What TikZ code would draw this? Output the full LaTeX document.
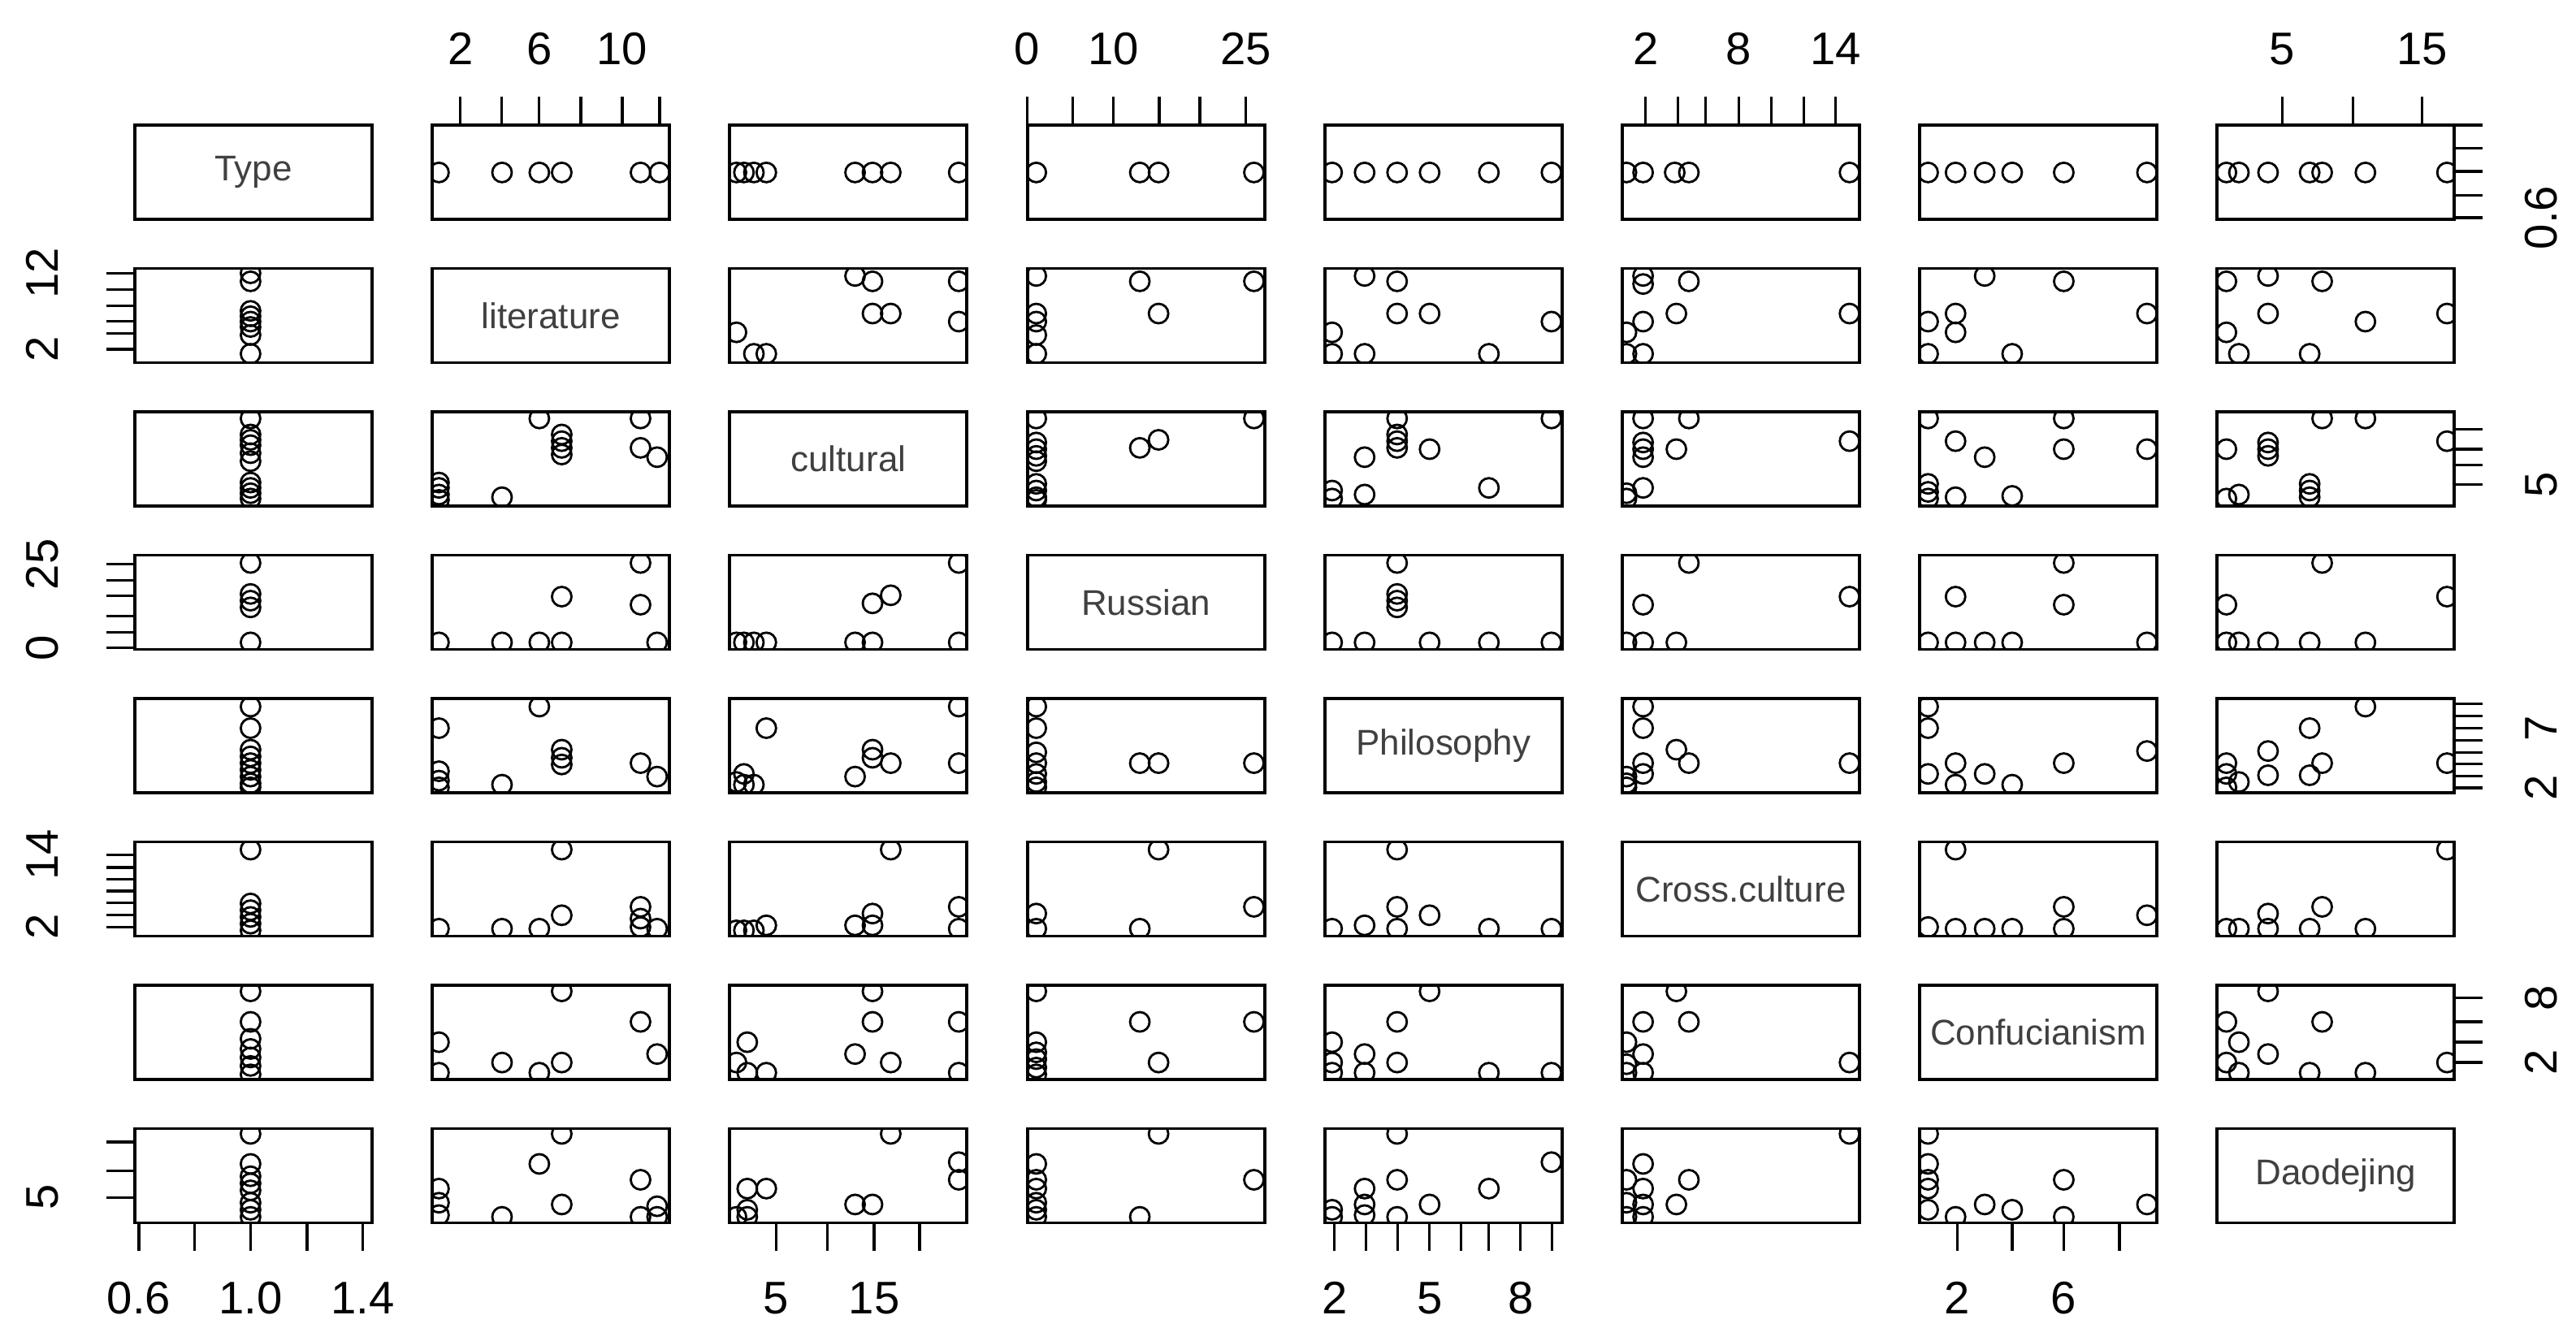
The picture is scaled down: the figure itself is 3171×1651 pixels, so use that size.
\documentclass[tikz,border=0pt]{standalone}
\usepackage{fontspec}
\setmainfont{Liberation Sans}
\begin{document}
\begin{tikzpicture}[x=0.01cm,y=-0.01cm,
  frame/.style={line width=1.1pt},
  tk/.style={line width=0.9pt},
  ptc/.style={line width=0.8pt},
  ticklab/.style={font=\fontsize{16}{16}\selectfont},
  diaglab/.style={font=\fontsize{12.5}{13}\selectfont, text=black!75}]
\useasboundingbox (0,0) rectangle (3171,1651);
\newcommand\pts[3]{%
 \pgfmathsetmacro\zl{{162,519,876,1234,51,415,772,1129}[#1-1]}%
 \pgfmathsetmacro\zw{{285,286,286,291,292,285,285,285}[#1-1]}%
 \pgfmathsetmacro\zt{{462,982,75,596,1130,72,502,930}[#2-1]}%
 \pgfmathsetmacro\zh{{338,351,353,350,350,280,278,267}[#2-1]}%
 \pgfmathsetmacro\xo{166+366.2*(#1-1)}%
 \pgfmathsetmacro\yo{154+176.5*(#2-1)}%
 \begin{scope}
 \clip (\xo,\yo) rectangle ++(292,116);
 \foreach \a/\b in {#3} {
   \pgfmathsetmacro\px{\xo+(\a-\zl)/\zw*292}
   \pgfmathsetmacro\py{\yo+(\b-\zt)/\zh*116}
   \draw[ptc] (\px,\py) circle[radius=0.12cm];}
 \end{scope}}
% frames
\foreach \c in {1,...,8}{\foreach \r in {1,...,8}{
  \draw[frame] ({166+366.2*(\c-1)},{154+176.5*(\r-1)}) rectangle ++(292,116);}}
% diagonal labels
\foreach \t [count=\i] in {Type,literature,cultural,Russian,Philosophy,Cross.culture,Confucianism,Daodejing}{
  \node[diaglab] (lab\i) at ({166+366.2*(\i-1)+146},{154+176.5*(\i-1)+58}) {\t};}
% top axes
\foreach \x in {566.9,617.9,663.9,715,766,812, 1264.6,1320.8,1370.9,1427,1477,1533.4, 2025.7,2065.6,2099.5,2140.4,2180.4,2220.4,2259.3, 2809.3,2896.4,2981.5}
  \draw[tk] (\x,154) -- (\x,119);
\draw[tk] (532.2,154)--(826,154) (1264.6,154)--(1533.4,154) (2025.7,154)--(2259.3,154) (2809.3,154)--(2981.5,154);
\foreach \x/\l in {566.9/2,663.9/6,766/10,1264.6/0,1370.9/10,1533.4/25,2025.7/2,2140.4/8,2259.3/14,2809.3/5,2981.5/15}
  \node[ticklab] at (\x,60) {\l};
% bottom axes
\foreach \x in {171,239.8,308.4,378,446.7, 955.6,1018.9,1076,1132, 1642.8,1681.8,1720.8,1759.8,1798.8,1832.8,1871.8,1910.8, 2409.3,2476.9,2540.5,2609}
  \draw[tk] (\x,1505.5) -- (\x,1540);
\draw[tk] (171,1505.5)--(446.7,1505.5) (955.6,1505.5)--(1132,1505.5) (1642.8,1505.5)--(1910.8,1505.5) (2409.3,1505.5)--(2609,1505.5);
\foreach \x/\l in {171/0.6,308.4/1.0,446.7/1.4,955.6/5,1076/15,1642.8/2,1759.8/5,1871.8/8,2409.3/2,2540.5/6}
  \node[ticklab] at (\x,1598) {\l};
% left axes
\foreach \y in {336.4,356.3,376.1,395.9,410.8,430, 694.8,714.7,733.9,758.4,778.3,797.5, 1052.2,1068,1082.5,1097,1111.4,1126.8,1141.2, 1406,1441.6,1474.2}
  \draw[tk] (166,\y) -- (131,\y);
\draw[tk] (166,336.4)--(166,430) (166,694.8)--(166,797.5) (166,1052.2)--(166,1141.2) (166,1406)--(166,1474.2);
\foreach \y/\l in {336.4/12,430/2,694.8/25,797.5/0,1052.2/14,1141.2/2,1474.2/5}
  \node[ticklab,rotate=90] at (52,\y) {\l};
% right axes
\foreach \y in {154,182.5,211,240.5,268, 528.4,553,572.7,596.7, 866.6,881.5,896.5,911.4,926.3,940.2,955.4,970, 1228.9,1258,1283,1308}
  \draw[tk] (3021.4,\y) -- (3056,\y);
\draw[tk] (3021.4,528.4)--(3021.4,596.7) (3021.4,866.6)--(3021.4,970) (3021.4,1228.9)--(3021.4,1308);
\foreach \y/\l in {268/0.6,596.7/5,896.5/7,970/2,1228.9/8,1308/2}
  \node[ticklab,rotate=90] at (3128,\y) {\l};
% ---- points ----
% row 1
\pts{2}{1}{527/632,603/632,648/632,675/632,770/632,793/632}
\pts{3}{1}{884/632,893/632,905/632,920/632,1027/632,1048/632,1070/632,1152/632}
\pts{4}{1}{1245/632,1372/632,1395/632,1512/632}
\pts{5}{1}{60/632,100/632,140/632,180/632,253/632,330/632}
\pts{6}{1}{420/632,440/632,478/632,495/632,688/632}
\pts{7}{1}{782/632,815/632,850/632,883/632,945/632,1045/632}
\pts{8}{1}{1140/632,1155/632,1190/632,1240/632,1255/632,1307/632,1405/632}
% row 2
\pts{1}{2}{301/1000,301/1030,301/1140,301/1160,301/1180,301/1200,301/1230,301/1300}
\pts{3}{2}{884/1220,905/1300,920/1300,1027/1010,1048/1030,1048/1150,1070/1150,1152/1030,1152/1180}
\pts{4}{2}{1245/1010,1245/1150,1245/1180,1245/1230,1245/1300,1372/1030,1395/1150,1512/1030}
\pts{5}{2}{100/1010,140/1030,140/1150,180/1150,60/1220,60/1300,100/1300,253/1300,330/1180}
\pts{6}{2}{440/1010,440/1040,495/1030,480/1150,440/1180,420/1220,420/1300,440/1300,688/1150}
\pts{7}{2}{850/1010,945/1030,815/1150,782/1180,815/1220,782/1300,883/1300,1045/1150}
\pts{8}{2}{1140/1030,1190/1010,1255/1030,1190/1150,1307/1180,1140/1220,1155/1300,1240/1300,1405/1150}
% row 3
\pts{1}{3}{301/100,301/160,301/180,301/200,301/230,301/260,301/340,301/360,301/380,301/400}
\pts{2}{3}{648/100,770/100,675/160,675/185,675/210,675/235,770/210,790/245,527/340,527/360,527/385,527/405,603/395}
\pts{4}{3}{1245/100,1512/100,1395/180,1372/210,1245/190,1245/215,1245/240,1245/260,1245/345,1245/370,1245/395,1245/405}
\pts{5}{3}{140/100,330/100,140/160,140/185,140/210,180/215,100/245,253/360,60/370,60/400,100/385}
\pts{6}{3}{440/100,495/100,688/185,440/190,440/215,480/215,440/245,440/360,420/380,420/400}
\pts{7}{3}{782/100,945/100,815/185,850/245,945/215,1045/215,782/345,782/375,782/400,815/395,883/390}
\pts{8}{3}{1255/100,1307/100,1405/185,1140/215,1190/190,1190/215,1190/240,1240/345,1240/370,1240/395,1155/385,1140/400}
% row 4
\pts{1}{4}{301/625,301/740,301/765,301/790,301/920}
\pts{2}{4}{770/625,675/750,770/780,527/920,603/920,648/920,675/920,790/920}
\pts{3}{4}{1152/625,1070/745,1048/775,884/920,893/920,905/920,920/920,1027/920,1048/920,1152/920}
\pts{5}{4}{140/625,140/740,140/765,140/790,60/920,100/920,180/920,253/920,330/920}
\pts{6}{4}{495/625,688/750,440/780,420/920,440/920,480/920}
\pts{7}{4}{945/625,815/750,945/780,782/920,815/920,850/920,883/920,1045/920}
\pts{8}{4}{1255/625,1405/750,1140/780,1140/920,1155/920,1190/920,1240/920,1307/920}
% row 5
\pts{1}{5}{301/1160,301/1240,301/1320,301/1345,301/1370,301/1395,301/1420,301/1445,301/1460}
\pts{2}{5}{648/1160,527/1240,675/1320,675/1350,675/1375,770/1370,790/1420,527/1400,527/1435,527/1460,603/1450}
\pts{3}{5}{1152/1160,920/1240,1048/1320,1048/1350,1070/1370,1027/1420,1152/1370,893/1410,884/1440,893/1450,905/1450}
\pts{4}{5}{1245/1160,1245/1240,1245/1330,1245/1370,1245/1410,1245/1440,1245/1460,1372/1370,1395/1370,1512/1370}
\pts{6}{5}{440/1160,440/1240,480/1320,495/1370,440/1370,440/1410,420/1420,420/1445,420/1460,688/1370}
\pts{7}{5}{782/1160,782/1240,1045/1325,815/1370,945/1370,782/1410,850/1410,815/1450,883/1450}
\pts{8}{5}{1307/1160,1240/1240,1190/1325,1255/1370,1140/1370,1190/1415,1240/1415,1140/1410,1155/1440,1140/1460,1405/1370}
% row 6
\pts{1}{6}{301/95,301/255,301/275,301/295,301/315,301/335}
\pts{2}{6}{675/95,770/265,675/290,770/300,527/330,603/330,648/330,790/330,770/325}
\pts{3}{6}{1070/95,1152/265,1048/285,1027/320,1048/320,920/320,884/335,893/335,905/335,1152/330}
\pts{4}{6}{1395/95,1512/265,1245/285,1245/330,1372/330}
\pts{5}{6}{140/95,140/265,180/290,60/330,100/320,140/330,253/330,330/330}
\pts{7}{6}{815/95,945/265,1045/290,782/325,815/330,850/330,883/330,945/330}
\pts{8}{6}{1405/95,1255/265,1190/285,1140/330,1155/330,1190/330,1240/330,1307/330}
% row 7
\pts{1}{7}{301/520,301/610,301/660,301/690,301/715,301/740,301/765}
\pts{2}{7}{675/520,770/610,527/670,603/730,675/730,790/705,527/760,648/760}
\pts{3}{7}{1048/520,1048/610,1152/610,897/670,1027/705,1070/730,884/730,897/760,920/760,1152/760}
\pts{4}{7}{1245/520,1372/610,1512/610,1245/670,1245/700,1245/720,1245/745,1395/730,1245/765}
\pts{5}{7}{180/520,140/610,60/670,100/705,140/730,60/730,60/760,100/760,253/760,330/760}
\pts{6}{7}{480/520,440/610,495/610,420/670,440/705,420/735,440/760,688/730,420/760}
\pts{8}{7}{1190/520,1140/610,1255/610,1155/670,1190/705,1140/730,1155/760,1240/760,1307/760,1405/730}
% row 8
\pts{1}{8}{301/945,301/1030,301/1065,301/1085,301/1105,301/1140,301/1160,301/1180}
\pts{2}{8}{675/945,648/1030,770/1075,527/1100,675/1145,790/1150,527/1140,527/1175,603/1180,770/1180,790/1180}
\pts{3}{8}{1070/945,1152/1025,1152/1075,897/1100,920/1100,1027/1145,1048/1145,897/1160,884/1180,897/1180}
\pts{4}{8}{1395/945,1245/1030,1245/1075,1245/1100,1512/1075,1245/1140,1245/1160,1245/1180,1372/1180}
\pts{5}{8}{140/945,330/1025,140/1075,100/1100,253/1100,180/1145,60/1160,100/1145,100/1175,60/1180,140/1180}
\pts{6}{8}{688/945,440/1030,495/1075,440/1100,420/1075,440/1145,480/1145,420/1140,420/1180,440/1180}
\pts{7}{8}{782/945,782/1030,782/1075,782/1100,945/1075,850/1145,883/1160,782/1160,815/1180,945/1180,1045/1145}
\end{tikzpicture}
\end{document}
